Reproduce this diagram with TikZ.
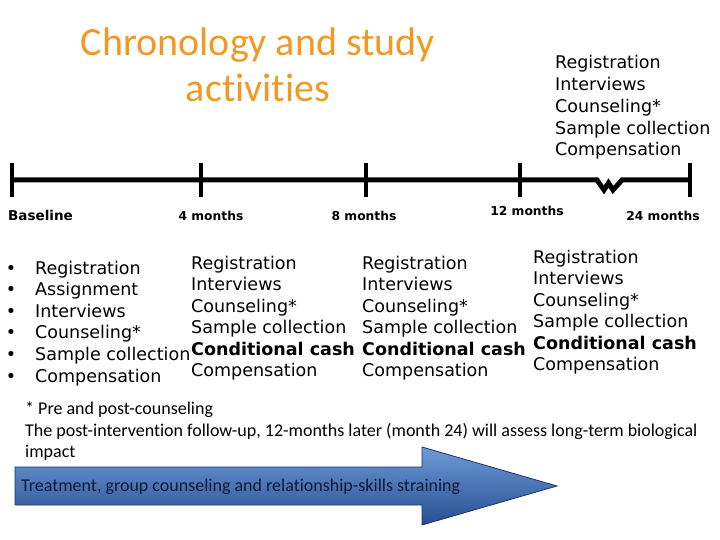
\documentclass[tikz,border=0pt]{standalone}
\usepackage{fontspec}
\setmainfont{DejaVu Sans}
\newfontfamily\cali[Ligatures=NoCommon]{Carlito}
\definecolor{titleorange}{RGB}{242,152,36}
\definecolor{arrowtop}{RGB}{110,155,215}
\definecolor{arrowbot}{RGB}{38,78,145}
\definecolor{arrowedge}{RGB}{28,52,100}
\definecolor{arrowtext}{RGB}{15,25,55}
\tikzset{
  lbl/.style={anchor=base west, inner sep=0pt, font=\fontsize{17.5}{20}\selectfont},
  tlbl/.style={anchor=base, inner sep=0pt, font=\fontsize{12.3}{14}\selectfont\bfseries},
  foot/.style={anchor=base west, inner sep=0pt, font=\cali\fontsize{18}{21}\selectfont},
  ttl/.style={anchor=base, inner sep=0pt, text=titleorange, font=\cali\fontsize{40}{46}\selectfont},
  tline/.style={line width=5pt},
  tick/.style={line width=4pt},
}
\begin{document}
\begin{tikzpicture}[x=1pt,y=-1pt]
\useasboundingbox (0,0) rectangle (720,540);
% title
\node[ttl] (t1) at (258,56) {Chronology and study};
\node[ttl] (t2) at (258,102) {activities};
% top right list
\foreach \t [count=\i] in {Registration,Interviews,Counseling*,Sample collection,Compensation}
  \node[lbl] (tr\i) at (555,{69+21.7*(\i-1)}) {\t};
% timeline
\coordinate (p0) at (12,180);
\coordinate (p1) at (201,180);
\coordinate (p2) at (366,180);
\coordinate (p3) at (520,180);
\coordinate (p4) at (690,180);
\draw[tline] (p0) -- (597,180) -- (604,190) -- (608.5,183) -- (613,190) -- (622,180) -- (p4);
\foreach \p in {p0,p1,p2,p3,p4}
  \draw[tick] ([yshift=17pt]\p) -- ([yshift=-17pt]\p);
% timeline labels
\node[tlbl, anchor=base west, font=\fontsize{13.5}{15}\selectfont\bfseries] (l0) at (8,221) {Baseline};
\node[tlbl] (l1) at (211,221) {4 months};
\node[tlbl] (l2) at (364,221) {8 months};
\node[tlbl] (l3) at (527,215) {12 months};
\node[tlbl] (l4) at (663,221) {24 months};
% column 1 (bulleted)
\foreach \t [count=\i] in {Registration,Assignment,Interviews,Counseling*,Sample collection,Compensation}{
  \node[lbl] (a\i) at (35,{274+21.6*(\i-1)}) {\t};
  \node[lbl, anchor=base] (b\i) at (11,{274+21.6*(\i-1)}) {•};
}
% column 2
\foreach \t [count=\i] in {Registration,Interviews,Counseling*,Sample collection,{\bfseries Conditional cash},Compensation}
  \node[lbl] (c\i) at (191,{269+21.5*(\i-1)}) {\t};
% column 3
\foreach \t [count=\i] in {Registration,Interviews,Counseling*,Sample collection,{\bfseries Conditional cash},Compensation}
  \node[lbl] (d\i) at (362,{269+21.5*(\i-1)}) {\t};
% column 4
\foreach \t [count=\i] in {Registration,Interviews,Counseling*,Sample collection,{\bfseries Conditional cash},Compensation}
  \node[lbl] (e\i) at (533,{263+21.5*(\i-1)}) {\t};
% footnotes
\node[foot] (f1) at (25,414) {* Pre and post-counseling};
\node[foot] (f2) at (25,436) {The post-intervention follow-up, 12-months later (month 24) will assess long-term biological};
\node[foot] (f3) at (25,457) {impact};
% arrow
\draw[arrowedge, line width=0.8pt, top color=arrowtop, bottom color=arrowbot]
  (15,467) -- (422,467) -- (422,447) -- (557,486) -- (422,525) -- (422,505) -- (15,505) -- cycle;
\node[foot, text=arrowtext] (ar) at (21,491) {Treatment, group counseling and relationship-skills straining};
\end{tikzpicture}
\end{document}
